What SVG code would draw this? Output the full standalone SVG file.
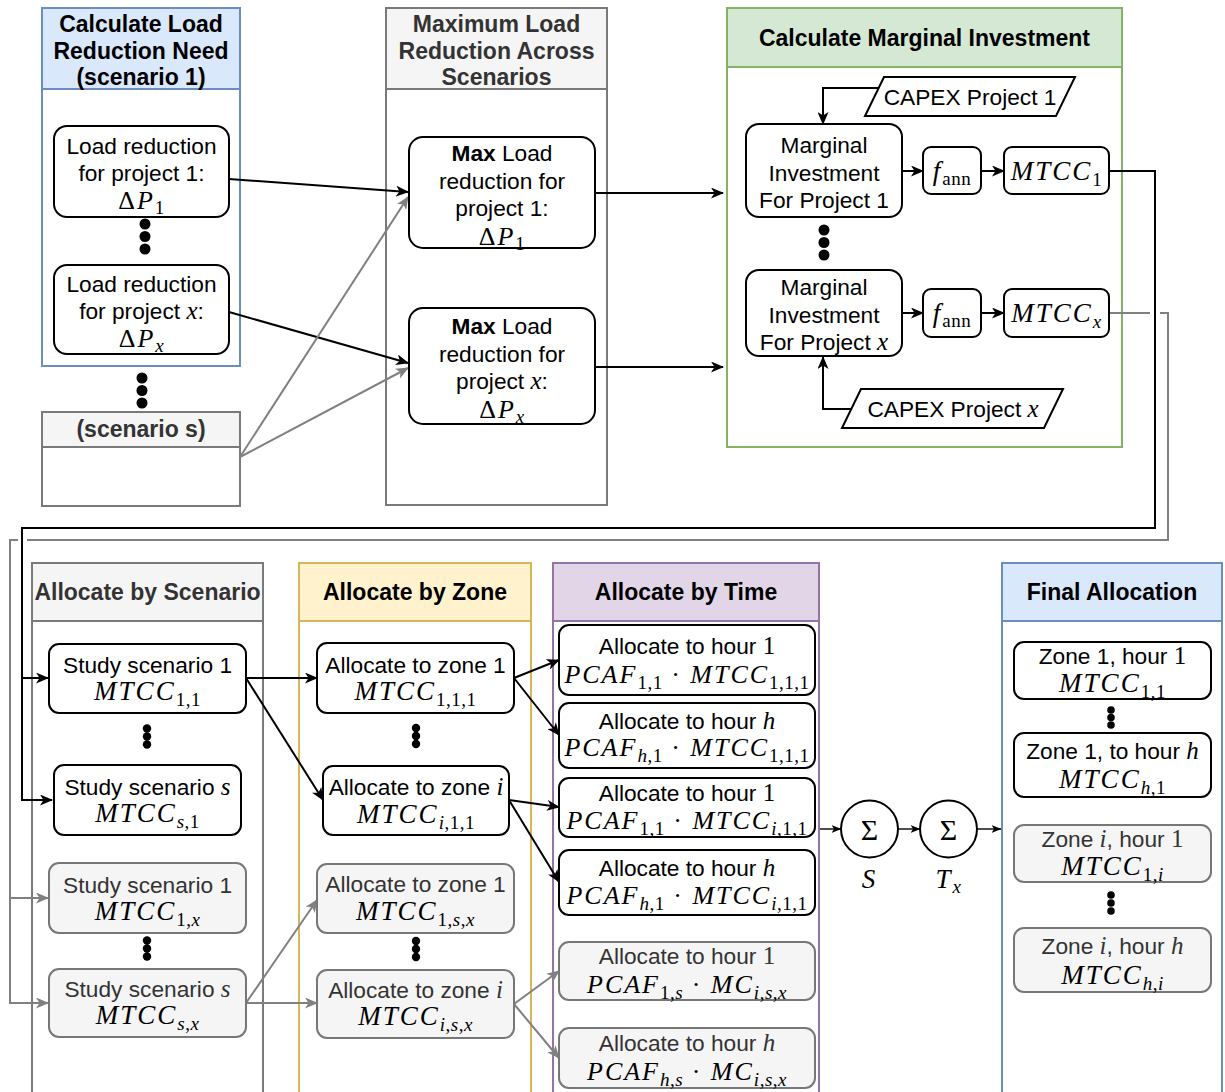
<svg xmlns="http://www.w3.org/2000/svg" width="1225" height="1092" viewBox="0 0 1225 1092">
<style>
.t{font-family:"Liberation Sans",Arial,sans-serif;font-size:22.7px;text-anchor:middle;fill:#000}
.h{font-family:"Liberation Sans",Arial,sans-serif;font-size:23px;font-weight:bold;text-anchor:middle;fill:#000}
.gt{fill:#333}
.m{font-family:"Liberation Serif","Times New Roman",serif;font-style:italic;font-size:27px;letter-spacing:2px;text-anchor:middle;fill:#000}
.mh{font-size:26px}
.mi{font-family:"Liberation Serif","Times New Roman",serif;font-style:italic;font-size:25px}
.u{font-style:normal}
.sb{font-size:19px;letter-spacing:0.5px}
.n{fill:#fff;stroke:#000;stroke-width:2}
.ng{fill:#f5f5f5;stroke:#777;stroke-width:2}
.c{fill:none;stroke:#000;stroke-width:2}
.cg{fill:none;stroke:#808080;stroke-width:2}
.ct{fill:none;stroke:#000;stroke-width:1.4}
.lb{fill:none;stroke-width:2}
</style>
<defs>
<marker id="a" viewBox="0 0 13 11" refX="12" refY="5.5" markerWidth="13" markerHeight="11" markerUnits="userSpaceOnUse" orient="auto"><path d="M0,0 L13,5.5 L0,11 L3.5,5.5 Z" fill="#000"/></marker>
<marker id="ag" viewBox="0 0 13 11" refX="12" refY="5.5" markerWidth="13" markerHeight="11" markerUnits="userSpaceOnUse" orient="auto"><path d="M0,0 L13,5.5 L0,11 L3.5,5.5 Z" fill="#808080"/></marker>
<marker id="as" viewBox="0 0 10 8" refX="9.5" refY="4" markerWidth="10" markerHeight="8" markerUnits="userSpaceOnUse" orient="auto"><path d="M0,0 L10,4 L0,8 L2.5,4 Z" fill="#000"/></marker>
</defs>
<rect width="1225" height="1092" fill="#fff"/>

<!-- lanes -->
<g id="laneA">
<rect x="42" y="8" width="198" height="81" fill="#dae8fc" stroke="#6c8ebf" stroke-width="2"/>
<rect x="42" y="8" width="198" height="358" class="lb" stroke="#6c8ebf"/>
<text class="h" x="141" y="32">Calculate Load</text>
<text class="h" x="141" y="58.5">Reduction Need</text>
<text class="h" x="141" y="85">(scenario 1)</text>
</g>
<g id="laneB">
<rect x="42" y="412" width="198" height="35" fill="#f5f5f5" stroke="#7a7a7a" stroke-width="2"/>
<rect x="42" y="412" width="198" height="94" class="lb" stroke="#7a7a7a"/>
<text class="h gt" x="141" y="437">(scenario s)</text>
</g>
<g id="laneC">
<rect x="386" y="8" width="221" height="81" fill="#f5f5f5" stroke="#7a7a7a" stroke-width="2"/>
<rect x="386" y="8" width="221" height="497" class="lb" stroke="#7a7a7a"/>
<text class="h gt" x="496.5" y="32">Maximum Load</text>
<text class="h gt" x="496.5" y="58.5">Reduction Across</text>
<text class="h gt" x="496.5" y="85">Scenarios</text>
</g>
<g id="laneD">
<rect x="727" y="8" width="395" height="59" fill="#d5e8d4" stroke="#82b366" stroke-width="2"/>
<rect x="727" y="8" width="395" height="439" class="lb" stroke="#82b366"/>
<text class="h" x="924.5" y="46">Calculate Marginal Investment</text>
</g>
<g id="laneE">
<rect x="32" y="563" width="231" height="58" fill="#f5f5f5" stroke="#7a7a7a" stroke-width="2"/>
<rect x="32" y="563" width="231" height="540" class="lb" stroke="#7a7a7a"/>
<text class="h gt" x="147.5" y="600">Allocate by Scenario</text>
</g>
<g id="laneF">
<rect x="299" y="563" width="232" height="58" fill="#fff2cc" stroke="#d6b656" stroke-width="2"/>
<rect x="299" y="563" width="232" height="540" class="lb" stroke="#d6b656"/>
<text class="h" x="415" y="600">Allocate by Zone</text>
</g>
<g id="laneG">
<rect x="553" y="563" width="266" height="58" fill="#e1d5e7" stroke="#9673a6" stroke-width="2"/>
<rect x="553" y="563" width="266" height="540" class="lb" stroke="#9673a6"/>
<text class="h" x="686" y="600">Allocate by Time</text>
</g>
<g id="laneH">
<rect x="1002" y="563" width="220" height="58" fill="#dae8fc" stroke="#6c8ebf" stroke-width="2"/>
<rect x="1002" y="563" width="220" height="540" class="lb" stroke="#6c8ebf"/>
<text class="h" x="1112" y="600">Final Allocation</text>
</g>

<!-- connectors -->
<g id="connectors">
<path class="c" d="M229,179 L408,192" marker-end="url(#a)"/>
<path class="c" d="M229,312 L408,363" marker-end="url(#a)"/>
<path class="cg" d="M240,457 L408,197" marker-end="url(#ag)"/>
<path class="cg" d="M240,457 L408,368" marker-end="url(#ag)"/>
<path class="c" d="M595,193 H723" marker-end="url(#a)"/>
<path class="c" d="M595,367 H723" marker-end="url(#a)"/>
<path class="c" d="M879,88 H823 V124" marker-end="url(#a)"/>
<path class="c" d="M851,409 H823 V357" marker-end="url(#a)"/>
<path class="c" d="M902,171 H923" marker-end="url(#a)"/>
<path class="c" d="M981,171 H1004" marker-end="url(#a)"/>
<path class="c" d="M902,313 H923" marker-end="url(#a)"/>
<path class="c" d="M981,313 H1004" marker-end="url(#a)"/>
<path class="c" d="M1109,171 H1155 V528 H22 V678 H48" marker-end="url(#a)"/>
<path class="c" d="M22,678 V800 H52" marker-end="url(#a)"/>
<path class="cg" d="M1109,313 H1150"/>
<path class="cg" d="M1160,313 H1168 V540 H27"/>
<path class="cg" d="M18,540 H10 V898 H48" marker-end="url(#ag)"/>
<path class="cg" d="M10,898 V1003 H48" marker-end="url(#ag)"/>
<path class="c" d="M246,678 H317" marker-end="url(#a)"/>
<path class="c" d="M246,678 L323,800" marker-end="url(#a)"/>
<path class="cg" d="M246,1003 L317,900" marker-end="url(#ag)"/>
<path class="cg" d="M246,1003 H317" marker-end="url(#ag)"/>
<path class="c" d="M514,678 L559,660" marker-end="url(#a)"/>
<path class="c" d="M514,678 L559,735" marker-end="url(#a)"/>
<path class="c" d="M509,800 L559,807" marker-end="url(#a)"/>
<path class="c" d="M509,800 L559,882" marker-end="url(#a)"/>
<path class="cg" d="M514,1004 L559,971" marker-end="url(#ag)"/>
<path class="cg" d="M514,1004 L559,1058" marker-end="url(#ag)"/>
<path class="ct" d="M820,829 H841" marker-end="url(#as)"/>
<path class="ct" d="M898,829 H920" marker-end="url(#as)"/>
<path class="ct" d="M977,829 H1001" marker-end="url(#as)"/>
</g>

<!-- top nodes -->
<g id="load1">
<rect class="n" x="54" y="126" width="175" height="91" rx="13"/>
<text class="t" x="141.5" y="154">Load reduction</text>
<text class="t" x="141.5" y="181">for project 1:</text>
<text class="m mh" x="141.5" y="209"><tspan class="u">Δ</tspan>P<tspan class="sb u" dy="5">1</tspan></text>
</g>
<g id="dotsA1"><circle cx="145" cy="224" r="5.5"/><circle cx="145" cy="236.5" r="5.5"/><circle cx="145" cy="249" r="5.5"/></g>
<g id="loadx">
<rect class="n" x="54" y="265" width="175" height="89" rx="13"/>
<text class="t" x="141.5" y="292">Load reduction</text>
<text class="t" x="141.5" y="319">for project <tspan class="mi">x</tspan>:</text>
<text class="m mh" x="141.5" y="347"><tspan class="u">Δ</tspan>P<tspan class="sb" dy="5">x</tspan></text>
</g>
<g id="dotsA2"><circle cx="142" cy="378" r="5.5"/><circle cx="142" cy="390.5" r="5.5"/><circle cx="142" cy="403" r="5.5"/></g>
<g id="max1">
<rect class="n" x="409" y="137" width="186" height="111" rx="14"/>
<text class="t" x="502" y="161"><tspan font-weight="bold">Max</tspan> Load</text>
<text class="t" x="502" y="189">reduction for</text>
<text class="t" x="502" y="216">project 1:</text>
<text class="m mh" x="502" y="245"><tspan class="u">Δ</tspan>P<tspan class="sb u" dy="5">1</tspan></text>
</g>
<g id="max2">
<rect class="n" x="409" y="308" width="186" height="116" rx="14"/>
<text class="t" x="502" y="334"><tspan font-weight="bold">Max</tspan> Load</text>
<text class="t" x="502" y="362">reduction for</text>
<text class="t" x="502" y="389">project <tspan class="mi">x</tspan>:</text>
<text class="m mh" x="502" y="418"><tspan class="u">Δ</tspan>P<tspan class="sb" dy="5">x</tspan></text>
</g>
<g id="capex1">
<polygon points="884,77 1075,77 1056,116 865,116" fill="#fff" stroke="#000" stroke-width="2"/>
<text class="t" x="970" y="105">CAPEX Project 1</text>
</g>
<g id="mi1">
<rect class="n" x="746" y="124" width="156" height="93" rx="13"/>
<text class="t" x="824" y="153">Marginal</text>
<text class="t" x="824" y="180.5">Investment</text>
<text class="t" x="824" y="208">For Project 1</text>
</g>
<g id="fann1">
<rect class="n" x="923" y="147" width="58" height="47" rx="8"/>
<text class="m" x="952" y="180">f<tspan class="sb u" dy="5">ann</tspan></text>
</g>
<g id="mtcc1">
<rect class="n" x="1004" y="147" width="105" height="47" rx="8"/>
<text class="m" x="1056.5" y="180">MTCC<tspan class="sb u" dy="6">1</tspan></text>
</g>
<g id="dotsD"><circle cx="824" cy="230" r="5.5"/><circle cx="824" cy="242.5" r="5.5"/><circle cx="824" cy="255" r="5.5"/></g>
<g id="mix">
<rect class="n" x="746" y="270" width="156" height="86" rx="13"/>
<text class="t" x="824" y="295">Marginal</text>
<text class="t" x="824" y="322.5">Investment</text>
<text class="t" x="824" y="350">For Project <tspan class="mi">x</tspan></text>
</g>
<g id="fannx">
<rect class="n" x="923" y="289" width="58" height="48" rx="8"/>
<text class="m" x="952" y="322">f<tspan class="sb u" dy="5">ann</tspan></text>
</g>
<g id="mtccx">
<rect class="n" x="1004" y="289" width="105" height="48" rx="8"/>
<text class="m" x="1056.5" y="322">MTCC<tspan class="sb" dy="6">x</tspan></text>
</g>
<g id="capexx">
<polygon points="861,389 1063,389 1044,428 842,428" fill="#fff" stroke="#000" stroke-width="2"/>
<text class="t" x="953" y="417">CAPEX Project <tspan class="mi">x</tspan></text>
</g>

<!-- allocate by scenario -->
<g id="study1">
<rect class="n" x="49" y="644" width="197" height="69" rx="10"/>
<text class="t" x="147.5" y="673">Study scenario 1</text>
<text class="m" x="147.5" y="700">MTCC<tspan class="sb u" dy="6">1,1</tspan></text>
</g>
<g id="dotsE1"><circle cx="147" cy="728.5" r="4.2"/><circle cx="147" cy="736.5" r="4.2"/><circle cx="147" cy="744.5" r="4.2"/></g>
<g id="studys">
<rect class="n" x="54" y="765" width="187" height="70" rx="10"/>
<text class="t" x="147.5" y="795">Study scenario <tspan class="mi">s</tspan></text>
<text class="m" x="147.5" y="822">MTCC<tspan class="sb" dy="6">s<tspan class="u">,1</tspan></tspan></text>
</g>
<g id="study1x">
<rect class="ng" x="49" y="863" width="197" height="70" rx="10"/>
<text class="t gt" x="147.5" y="893">Study scenario 1</text>
<text class="m gt" x="147.5" y="920">MTCC<tspan class="sb" dy="6"><tspan class="u">1,</tspan>x</tspan></text>
</g>
<g id="dotsE2"><circle cx="147" cy="940.5" r="4.2"/><circle cx="147" cy="948.5" r="4.2"/><circle cx="147" cy="956.5" r="4.2"/></g>
<g id="studysx">
<rect class="ng" x="49" y="969" width="197" height="68" rx="10"/>
<text class="t gt" x="147.5" y="997">Study scenario <tspan class="mi">s</tspan></text>
<text class="m gt" x="147.5" y="1024">MTCC<tspan class="sb" dy="6">s<tspan class="u">,</tspan>x</tspan></text>
</g>

<!-- allocate by zone -->
<g id="zone1">
<rect class="n" x="317" y="643" width="197" height="70" rx="10"/>
<text class="t" x="415.5" y="673">Allocate to zone 1</text>
<text class="m" x="415.5" y="700">MTCC<tspan class="sb u" dy="6">1,1,1</tspan></text>
</g>
<g id="dotsF1"><circle cx="416" cy="728" r="4.2"/><circle cx="416" cy="736" r="4.2"/><circle cx="416" cy="744" r="4.2"/></g>
<g id="zonei">
<rect class="n" x="323" y="766" width="186" height="69" rx="10"/>
<text class="t" x="416" y="795">Allocate to zone <tspan class="mi">i</tspan></text>
<text class="m" x="416" y="823">MTCC<tspan class="sb" dy="6">i<tspan class="u">,1,1</tspan></tspan></text>
</g>
<g id="zone1x">
<rect class="ng" x="317" y="864" width="197" height="69" rx="10"/>
<text class="t gt" x="415.5" y="892">Allocate to zone 1</text>
<text class="m gt" x="415.5" y="920">MTCC<tspan class="sb" dy="6"><tspan class="u">1,</tspan>s<tspan class="u">,</tspan>x</tspan></text>
</g>
<g id="dotsF2"><circle cx="416" cy="941" r="4.2"/><circle cx="416" cy="949" r="4.2"/><circle cx="416" cy="957" r="4.2"/></g>
<g id="zoneix">
<rect class="ng" x="317" y="970" width="197" height="68" rx="10"/>
<text class="t gt" x="415.5" y="998">Allocate to zone <tspan class="mi">i</tspan></text>
<text class="m gt" x="415.5" y="1025">MTCC<tspan class="sb" dy="6">i<tspan class="u">,</tspan>s<tspan class="u">,</tspan>x</tspan></text>
</g>

<!-- allocate by time -->
<g id="hour1a">
<rect class="n" x="559" y="625" width="256" height="70" rx="10"/>
<text class="t" x="687" y="654">Allocate to hour <tspan class="mi u">1</tspan></text>
<text class="m mh" x="687" y="683">PCAF<tspan class="sb u" dy="6">1,1</tspan><tspan class="u" dy="-6"> · </tspan>MTCC<tspan class="sb u" dy="6">1,1,1</tspan></text>
</g>
<g id="hourha">
<rect class="n" x="559" y="703" width="256" height="65" rx="10"/>
<text class="t" x="687" y="729">Allocate to hour <tspan class="mi">h</tspan></text>
<text class="m mh" x="687" y="756">PCAF<tspan class="sb" dy="6">h<tspan class="u">,1</tspan></tspan><tspan class="u" dy="-6"> · </tspan>MTCC<tspan class="sb u" dy="6">1,1,1</tspan></text>
</g>
<g id="hour1b">
<rect class="n" x="559" y="778" width="256" height="59" rx="10"/>
<text class="t" x="687" y="801">Allocate to hour <tspan class="mi u">1</tspan></text>
<text class="m mh" x="687" y="829">PCAF<tspan class="sb u" dy="6">1,1</tspan><tspan class="u" dy="-6"> · </tspan>MTCC<tspan class="sb" dy="6">i<tspan class="u">,1,1</tspan></tspan></text>
</g>
<g id="hourhb">
<rect class="n" x="559" y="850" width="256" height="65" rx="10"/>
<text class="t" x="687" y="876">Allocate to hour <tspan class="mi">h</tspan></text>
<text class="m mh" x="687" y="904">PCAF<tspan class="sb" dy="6">h<tspan class="u">,1</tspan></tspan><tspan class="u" dy="-6"> · </tspan>MTCC<tspan class="sb" dy="6">i<tspan class="u">,1,1</tspan></tspan></text>
</g>
<g id="hour1x">
<rect class="ng" x="559" y="942" width="256" height="58" rx="10"/>
<text class="t gt" x="687" y="964">Allocate to hour <tspan class="mi u">1</tspan></text>
<text class="m mh gt" x="687" y="993">PCAF<tspan class="sb" dy="6"><tspan class="u">1,</tspan>s</tspan><tspan class="u" dy="-6"> · </tspan>MC<tspan class="sb" dy="6">i<tspan class="u">,</tspan>s<tspan class="u">,</tspan>x</tspan></text>
</g>
<g id="hourhx">
<rect class="ng" x="559" y="1028" width="256" height="60" rx="10"/>
<text class="t gt" x="687" y="1051">Allocate to hour <tspan class="mi">h</tspan></text>
<text class="m mh gt" x="687" y="1080">PCAF<tspan class="sb" dy="6">h<tspan class="u">,</tspan>s</tspan><tspan class="u" dy="-6"> · </tspan>MC<tspan class="sb" dy="6">i<tspan class="u">,</tspan>s<tspan class="u">,</tspan>x</tspan></text>
</g>

<!-- sums -->
<g id="sumS">
<circle cx="869.5" cy="829" r="28.5" fill="#fff" stroke="#000" stroke-width="2"/>
<text x="869.5" y="840" text-anchor="middle" font-family="Liberation Serif,serif" font-size="30">Σ</text>
<text class="m" x="869.5" y="888">S</text>
</g>
<g id="sumT">
<circle cx="948.5" cy="829" r="28.5" fill="#fff" stroke="#000" stroke-width="2"/>
<text x="948.5" y="840" text-anchor="middle" font-family="Liberation Serif,serif" font-size="30">Σ</text>
<text class="m" x="948.5" y="888">T<tspan class="sb" dy="5">x</tspan></text>
</g>

<!-- final allocation -->
<g id="fin11">
<rect class="n" x="1014" y="642" width="197" height="57" rx="10"/>
<text class="t" x="1112.5" y="664">Zone 1, hour <tspan class="mi u">1</tspan></text>
<text class="m" x="1112.5" y="692">MTCC<tspan class="sb u" dy="6">1,1</tspan></text>
</g>
<g id="dotsH1"><circle cx="1111" cy="710" r="3.8"/><circle cx="1111" cy="717.5" r="3.8"/><circle cx="1111" cy="725" r="3.8"/></g>
<g id="fin1h">
<rect class="n" x="1014" y="733" width="197" height="64" rx="10"/>
<text class="t" x="1112.5" y="759">Zone 1, to hour <tspan class="mi">h</tspan></text>
<text class="m" x="1112.5" y="788">MTCC<tspan class="sb" dy="6">h<tspan class="u">,1</tspan></tspan></text>
</g>
<g id="fini1">
<rect class="ng" x="1014" y="825" width="197" height="57" rx="10"/>
<text class="t gt" x="1112.5" y="847">Zone <tspan class="mi">i</tspan>, hour <tspan class="mi u">1</tspan></text>
<text class="m gt" x="1112.5" y="875">MTCC<tspan class="sb" dy="6"><tspan class="u">1,</tspan>i</tspan></text>
</g>
<g id="dotsH2"><circle cx="1111" cy="895" r="3.8"/><circle cx="1111" cy="903" r="3.8"/><circle cx="1111" cy="911" r="3.8"/></g>
<g id="finih">
<rect class="ng" x="1014" y="928" width="197" height="64" rx="10"/>
<text class="t gt" x="1112.5" y="954">Zone <tspan class="mi">i</tspan>, hour <tspan class="mi">h</tspan></text>
<text class="m gt" x="1112.5" y="984">MTCC<tspan class="sb" dy="6">h<tspan class="u">,</tspan>i</tspan></text>
</g>
</svg>
